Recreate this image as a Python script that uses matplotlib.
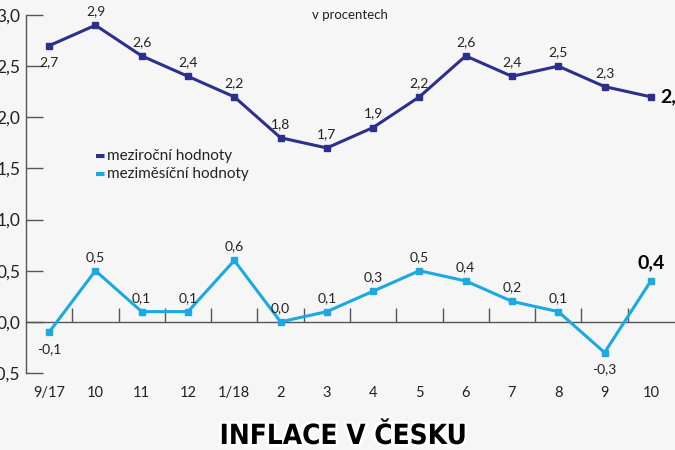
import matplotlib
matplotlib.use("Agg")
import matplotlib.pyplot as plt
import matplotlib.patheffects as pe
import numpy as np

categories = ["9/17", "10", "11", "12", "1/18", "2", "3", "4", "5", "6", "7", "8", "9", "10"]
yoy = [2.7, 2.9, 2.6, 2.4, 2.2, 1.8, 1.7, 1.9, 2.2, 2.6, 2.4, 2.5, 2.3, 2.2]
mom = [-0.1, 0.5, 0.1, 0.1, 0.6, 0.0, 0.1, 0.3, 0.5, 0.4, 0.2, 0.1, -0.3, 0.4]
yoy_below = [0]
mom_below = [0, 12]
yticks = [-0.5, 0.0, 0.5, 1.0, 1.5, 2.0, 2.5, 3.0]

navy = "#2e2f8c"
cyan = "#1aa9e0"
font = "Lato"

fig = plt.figure(figsize=(6.75, 4.5), dpi=100)
fig.patch.set_facecolor("#f6f6f6")
ax = fig.add_axes([26/675, 1-373/450, 648/675, 358/450])
ax.set_facecolor("none")

x = np.arange(len(categories))
ax.plot(x, yoy, color=navy, lw=2.2, marker="s", ms=5, zorder=3)
ax.plot(x, mom, color=cyan, lw=2.2, marker="s", ms=5, zorder=3)

ax.set_xlim(-0.5, len(categories) - 0.5)
ax.set_ylim(-0.5, 3.0)

def fmt(v):
    return f"{v:.1f}".replace(".", ",")

for i, v in enumerate(yoy):
    if i == len(yoy) - 1:
        ax.annotate(fmt(v), (i, v), xytext=(7, 0), textcoords="offset points",
                    ha="left", va="center", fontsize=14, fontweight="bold",
                    color="black", family=font)
    else:
        dy = -12 if i in yoy_below else 10
        ax.annotate(fmt(v), (i, v), xytext=(0, dy), textcoords="offset points",
                    ha="center", va="center", fontsize=10, color="#222222", family=font)
for i, v in enumerate(mom):
    if i == len(mom) - 1:
        ax.annotate(fmt(v), (i, v), xytext=(0, 13), textcoords="offset points",
                    ha="center", va="center", fontsize=14, fontweight="bold",
                    color="black", family=font)
    else:
        dy = -12 if i in mom_below else 10
        ax.annotate(fmt(v), (i, v), xytext=(0, dy), textcoords="offset points",
                    ha="center", va="center", fontsize=10, color="#222222", family=font)

# spines
for s in ["top", "right"]:
    ax.spines[s].set_visible(False)
ax.spines["bottom"].set_position(("data", 0))
ax.spines["bottom"].set_color("#555555")
ax.spines["left"].set_color("#555555")
ax.spines["bottom"].set_linewidth(1)
ax.spines["left"].set_linewidth(1)

ax.set_xticks(np.arange(0.5, len(categories) - 0.5, 1.0))
ax.set_xticklabels([])
ax.tick_params(axis="x", direction="in", length=10, color="#555555", width=1)
ax.set_yticks(yticks)
ax.set_yticklabels([fmt(v) for v in yticks], family=font, fontsize=12.5, color="#222222")
ax.tick_params(axis="y", direction="in", length=12, color="#555555", width=1, pad=4)

for i, c in enumerate(categories):
    ax.text(i, -0.035, c, transform=ax.get_xaxis_transform(), ha="center", va="top",
            fontsize=10.5, family=font, color="#222222")

ax.text(0.5, 1.0, "v procentech", transform=ax.transAxes, ha="center", va="center",
        fontsize=9.5, family=font, color="#222222")

# legend
ax.text(1.0, 1.62, "▬", color=navy, fontsize=8, va="center", ha="left", family="DejaVu Sans")
ax.text(1.26, 1.62, "meziroční hodnoty", color="#222222", fontsize=11, va="center", ha="left", family=font)
ax.text(1.0, 1.445, "▬", color=cyan, fontsize=8, va="center", ha="left", family="DejaVu Sans")
ax.text(1.26, 1.445, "meziměsíční hodnoty", color="#222222", fontsize=11, va="center", ha="left", family=font)

fig.text(343/675, 1-436/450, "INFLACE V ČESKU", ha="center", va="center", fontsize=20,
         fontweight="bold", family="DejaVu Sans", fontstretch="condensed", color="black",
         path_effects=[pe.withStroke(linewidth=4, foreground="white")])

fig.savefig("out.png", dpi=100, facecolor=fig.get_facecolor())
